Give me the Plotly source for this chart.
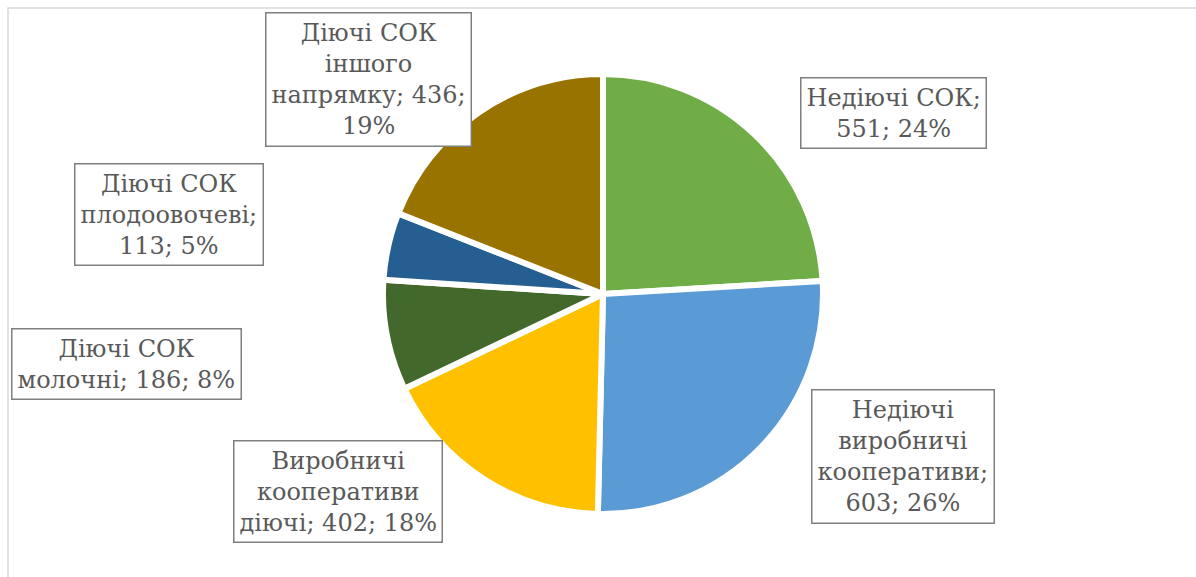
import plotly.graph_objects as go

# Data
names = [
    "Недіючі СОК",
    "Недіючі<br>виробничі<br>кооперативи",
    "Виробничі<br>кооперативи<br>діючі",
    "Діючі СОК<br>молочні",
    "Діючі СОК<br>плодоовочеві",
    "Діючі СОК<br>іншого<br>напрямку",
]
values = [551, 603, 402, 186, 113, 436]
sep_name_value = [";<br>", ";<br>", "; ", "; ", ";<br>", "; "]
sep_value_pct = ["; ", "; ", "; ", "; ", "; ", ";<br>"]
colors = ["#70AD47", "#5B9BD5", "#FFC000", "#43682B", "#255E91", "#997300"]

# Label box centres (pixels in the 1196x577 canvas)
label_px = [(893, 113), (903, 456), (338, 491), (126, 364), (169, 215), (368, 80)]

W, H = 1196, 577
total = sum(values)
FONT = "DejaVu Serif"

fig = go.Figure()
cx, cy, r = 603, 294, 220
fig.add_trace(go.Pie(
    labels=[n.replace("<br>", " ") for n in names],
    values=values,
    sort=False,
    direction="clockwise",
    rotation=0,
    marker=dict(colors=colors, line=dict(color="#FFFFFF", width=6)),
    textinfo="none",
    hoverinfo="label+value+percent",
    domain=dict(x=[(cx - r) / W, (cx + r) / W], y=[1 - (cy + r) / H, 1 - (cy - r) / H]),
    showlegend=False,
))

for n, v, s1, s2, (px, py) in zip(names, values, sep_name_value, sep_value_pct, label_px):
    pct = round(v / total * 100)
    fig.add_annotation(
        x=px / W, y=1 - py / H, xref="paper", yref="paper",
        xanchor="center", yanchor="middle",
        text=f"{n}{s1}{v}{s2}{pct}%",
        showarrow=False,
        align="center",
        font=dict(family=FONT, size=24, color="#595959"),
        bordercolor="#7F7F7F", borderwidth=1.5, borderpad=5,
        bgcolor="white",
    )

fig.add_shape(type="rect", xref="paper", yref="paper",
              x0=8 / W, x1=1.02, y0=-0.02, y1=1 - 8 / H,
              line=dict(color="#D9D9D9", width=1.5), layer="below")

fig.update_layout(
    width=W, height=H,
    margin=dict(l=0, r=0, t=0, b=0),
    paper_bgcolor="white", plot_bgcolor="white",
    font=dict(family=FONT),
)

fig.write_html("out.html")
